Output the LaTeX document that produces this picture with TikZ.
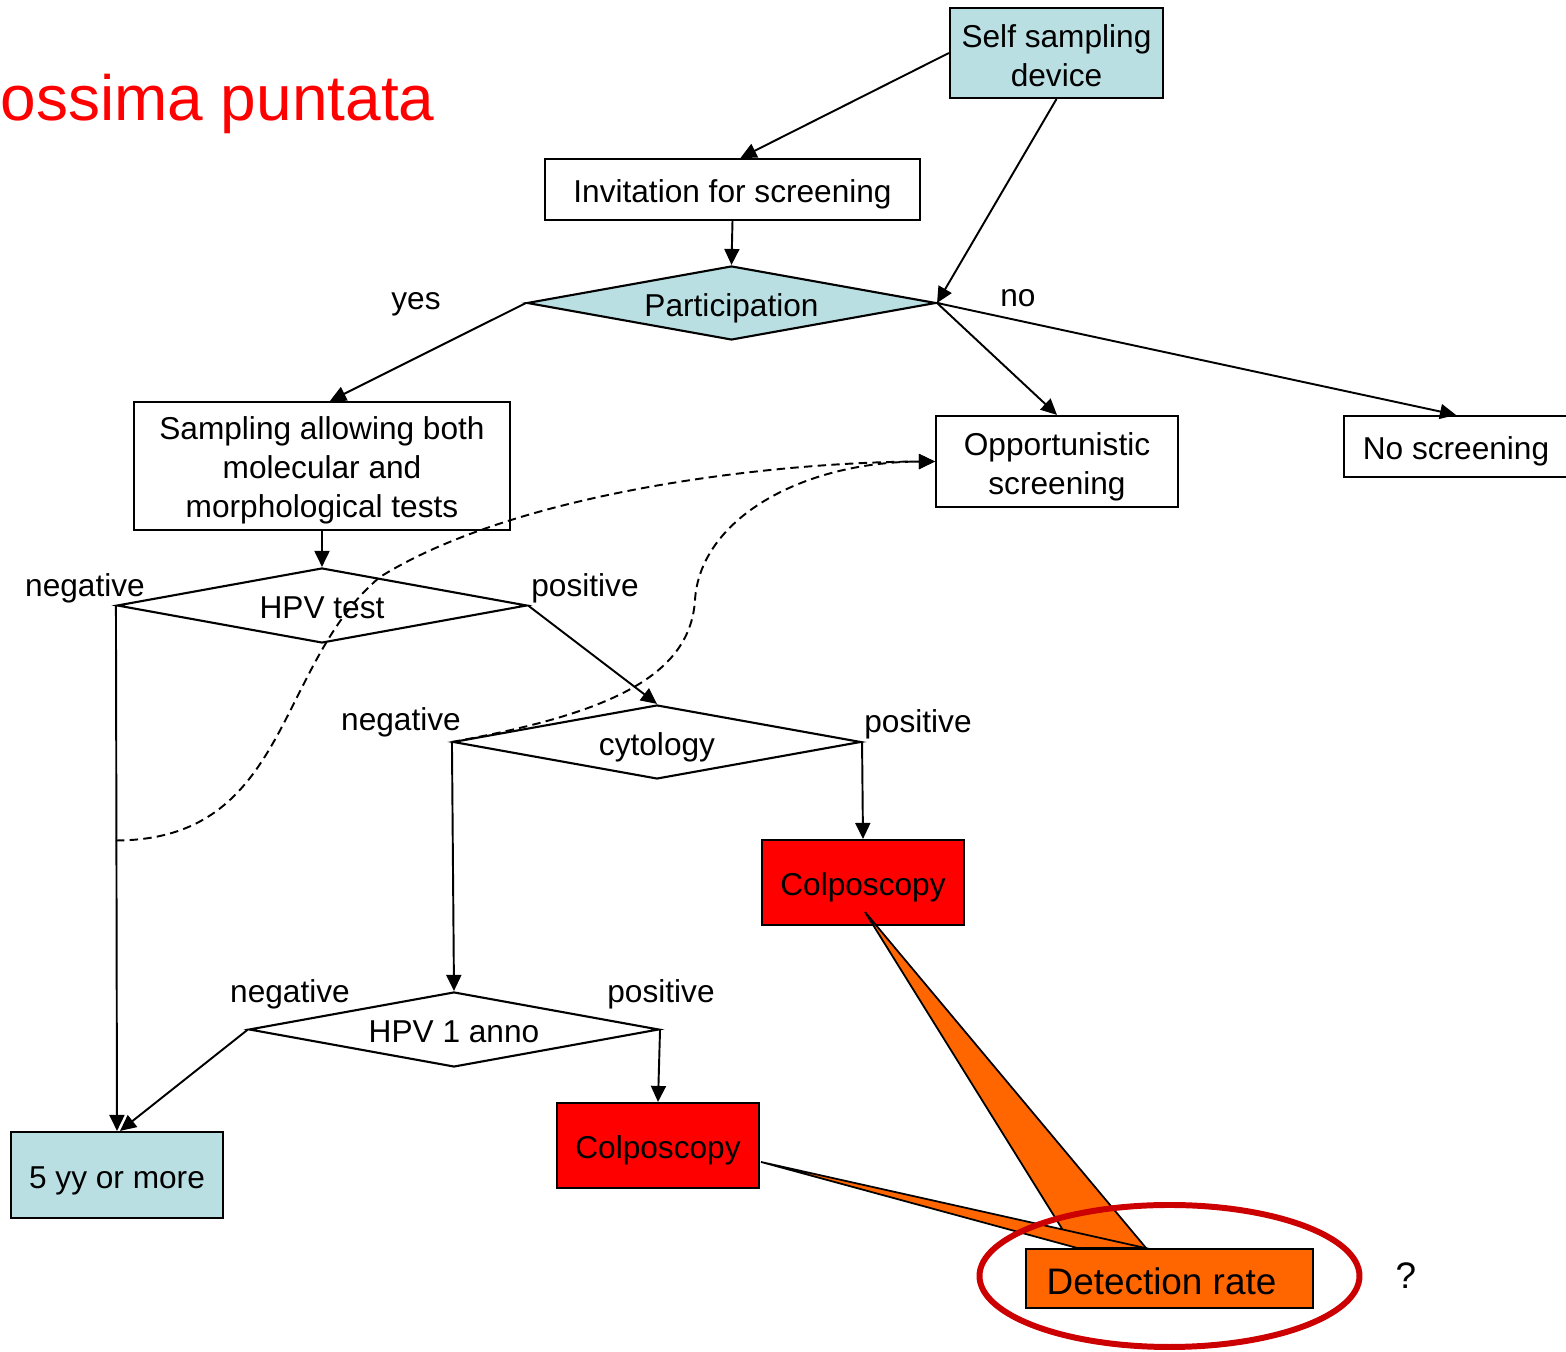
\documentclass[tikz,border=0pt]{standalone}
\usepackage{fontspec}
\setmainfont{Liberation Sans}
\usetikzlibrary{arrows.meta,shapes.geometric,calc}
\definecolor{panelblue}{RGB}{185,223,227}
\definecolor{colpored}{RGB}{255,0,0}
\definecolor{rateorange}{RGB}{255,102,0}
\definecolor{ringred}{RGB}{204,0,0}
\newcommand{\toppad}[1]{\rule{0pt}{#1}}

\begin{document}
\begin{tikzpicture}[
  font=\fontsize{9}{11.1}\selectfont, >={Triangle[length=.16cm,width=.15cm]},
  box/.style={draw,line width=.6pt,align=center,inner sep=0pt},
  oneline/.style={text height=.95em,text depth=.2em},
  bluebox/.style={box,fill=panelblue},
  redbox/.style={box,oneline,fill=colpored,minimum width=2.02cm,minimum height=.85cm},
  choice/.style={draw,diamond,aspect=5.5,line width=.6pt,inner sep=0pt,oneline,
    minimum width=4.09cm,minimum height=.74cm},
  tag/.style={anchor=base,inner sep=0pt},
  arr/.style={->,line width=.55pt},
  back/.style={->,line width=.55pt,dash pattern=on 2.4pt off 1.5pt},
  wedge/.style={draw=black,line width=.5pt,fill=rateorange},
  ring/.style={draw=ringred,line width=1.7pt}
]
\useasboundingbox (0,0) rectangle (15.66,-13.52);

\node[font=\fontsize{18.2}{21}\selectfont,text=colpored,anchor=base west,inner sep=0pt] (title) at (0,-1.21) {ossima puntata};

\node[bluebox,minimum width=2.13cm,minimum height=.90cm] (self) at (10.565,-.53) {\toppad{7.8pt}Self sampling\\device};
\node[box,oneline,minimum width=3.75cm,minimum height=.61cm] (invite) at (7.325,-1.895) {Invitation for screening};
\node[choice,fill=panelblue] (partic) at (7.315,-3.03) {Participation};
\node[tag] (yes) at (4.16,-3.10) {yes};
\node[tag] (no) at (10.18,-3.07) {no};

\node[box,minimum width=3.76cm,minimum height=1.28cm] (sampling) at (3.22,-4.66) {\toppad{8.9pt}Sampling allowing both\\molecular and\\morphological tests};
\node[box,minimum width=2.42cm,minimum height=.91cm] (opportun) at (10.57,-4.615) {\toppad{9.4pt}Opportunistic\\screening};
\node[box,oneline,minimum width=2.24cm,minimum height=.61cm] (noscreen) at (14.56,-4.465) {No screening};

\node[choice,minimum width=4.10cm,minimum height=.75cm] (hpvtest) at (3.22,-6.055) {HPV test};
\node[tag] (hpvneg) at (.85,-5.965) {negative};
\node[tag] (hpvpos) at (5.85,-5.965) {positive};

\node[choice,minimum width=4.08cm] (cytology) at (6.57,-7.42) {cytology};
\node[tag] (cytneg) at (4.01,-7.31) {negative};
\node[tag] (cytpos) at (9.18,-7.325) {positive};
\node[redbox] (colpoA) at (8.63,-8.825) {Colposcopy};

\node[choice,minimum width=4.10cm,minimum height=.75cm] (hpvyear) at (4.54,-10.295) {HPV 1 anno};
\node[tag] (yearneg) at (2.90,-10.025) {negative};
\node[tag] (yearpos) at (6.61,-10.025) {positive};
\node[redbox] (colpoB) at (6.58,-11.455) {Colposcopy};
\node[bluebox,oneline,minimum width=2.12cm,minimum height=.86cm] (fiveyy) at (1.17,-11.75) {5 yy or more};

\node[box,oneline,text height=1.11em,fill=rateorange,font=\fontsize{10.5}{12.6}\selectfont,
      minimum width=2.87cm,minimum height=.59cm] (detect) at (11.695,-12.785) {Detection rate\hspace*{.16cm}};
\node[tag,font=\fontsize{10.5}{12.6}\selectfont] (query) at (14.06,-12.89) {?};

% flow
\draw[arr] (self.west) -- ([xshift=.08cm]invite.north);
\draw[arr] (self.south) -- (partic.east);
\draw[arr] (invite.south) -- (partic.north);
\draw[arr] (partic.west) -- ([xshift=.08cm]sampling.north);
\draw[arr] (partic.east) -- (opportun.north);
\draw[arr] (partic.east) -- (noscreen.north);
\draw[arr] (sampling.south) -- (hpvtest.north);
\draw[arr] (hpvtest.east) -- (cytology.north);
\draw[arr] (hpvtest.west) -- (fiveyy.north);
\draw[arr] (cytology.west) -- (hpvyear.north);
\draw[arr] (cytology.east) -- (colpoA.north);
\draw[arr] (hpvyear.west) -- ([xshift=.03cm]fiveyy.north);
\draw[arr] (hpvyear.east) -- (colpoB.north);

% dashed returns
\coordinate (negloop) at ([yshift=-2.35cm]hpvtest.west);
\draw[back] (negloop) .. controls (2.90,-8.40) and (2.75,-6.65) .. (3.80,-5.77)
  .. controls (5.20,-4.90) and (7.80,-4.62) .. (opportun.west);
\draw[back] (cytology.west) .. controls (6.00,-7.15) and (6.90,-6.80) .. (6.95,-6.00)
  .. controls (7.00,-5.20) and (8.00,-4.62) .. (opportun.west);

% callouts
\filldraw[wedge] ([xshift=.02cm,yshift=-.295cm]colpoA.center) -- ([xshift=-.955cm]detect.north)
  -- ([xshift=-.235cm]detect.north) -- cycle;
\filldraw[wedge] ([xshift=.01cm,yshift=-.165cm]colpoB.east) -- ([xshift=-.925cm]detect.north)
  -- ([xshift=-.245cm]detect.north) -- cycle;
\draw[ring] ([yshift=.025cm]detect.center) ellipse [x radius=1.90cm,y radius=.71cm];
\end{tikzpicture}
\end{document}
